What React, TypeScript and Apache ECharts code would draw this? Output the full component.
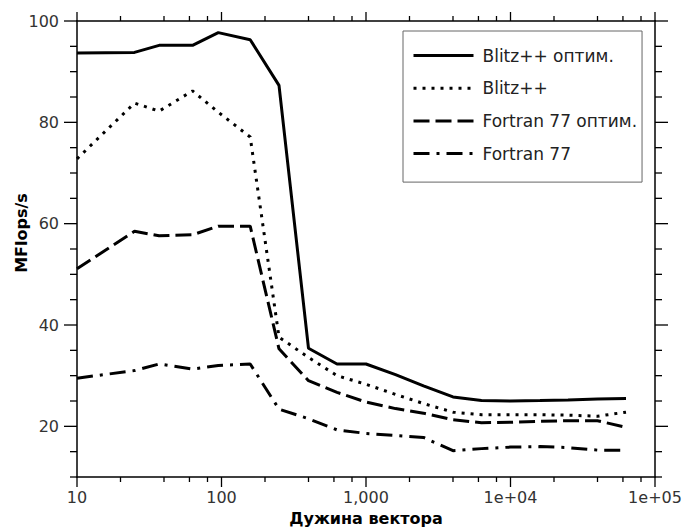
import React, { useEffect, useRef } from "react";
import * as echarts from "echarts";

const vectorLengths = [10, 25, 37, 63, 95, 158, 250, 400, 630, 1000, 1600, 2500, 4000, 6300, 10000, 16000, 25000, 40000, 63000];
const blitzOpt = [93.7, 93.8, 95.2, 95.2, 97.7, 96.3, 87.3, 35.4, 32.3, 32.3, 30.2, 28.0, 25.8, 25.1, 25.0, 25.1, 25.2, 25.4, 25.5];
const blitz = [72.8, 83.8, 82.2, 86.2, 82.0, 77.1, 37.6, 33.6, 30.0, 28.3, 26.3, 24.5, 22.8, 22.3, 22.3, 22.3, 22.2, 22.0, 22.8];
const fortranOpt = [51.1, 58.5, 57.6, 57.8, 59.5, 59.5, 35.3, 29.0, 26.7, 24.8, 23.5, 22.6, 21.3, 20.7, 20.8, 21.0, 21.1, 21.1, 19.8];
const fortran = [29.5, 31.0, 32.3, 31.3, 32.0, 32.3, 23.4, 21.5, 19.3, 18.6, 18.2, 17.8, 15.2, 15.6, 15.9, 16.0, 15.8, 15.3, 15.3];

const seriesNames = ["Blitz++ оптим.", "Blitz++", "Fortran 77 оптим.", "Fortran 77"];

const xTickValues = [10, 100, 1000, 10000, 100000];
const xTickLabels = ["10", "100", "1,000", "1e+04", "1e+05"];
const xMinorTicks = [20, 40, 60, 80, 200, 400, 600, 800, 2000, 4000, 6000, 8000, 20000, 40000, 60000, 80000];
const yTickValues = [20, 40, 60, 80, 100];
const yMinorTicks = [10, 15, 25, 30, 35, 45, 50, 55, 65, 70, 75, 85, 90, 95];

const FONT = "DejaVu Sans";

export default function App() {
  const ref = useRef<HTMLDivElement>(null);
  useEffect(() => {
    if (!ref.current) return;
    const chart = echarts.init(ref.current, undefined, { renderer: "svg" });
    const axisLine = { show: true, lineStyle: { color: "#000", width: 1.5 } };
    const fmtX = (v: number) => {
      const i = xTickValues.findIndex((t) => Math.abs(t - v) / t < 1e-6);
      return i >= 0 ? xTickLabels[i] : "";
    };
    const xBase = { type: "log" as const, logBase: 10, min: 10, max: 100000, splitLine: { show: false }, axisTick: { show: false } };
    const yBase = { type: "value" as const, min: 10, max: 100, splitLine: { show: false }, axisTick: { show: false } };
    const dashTypes: any[] = ["solid", [3, 6], [16, 6], [16, 7, 3, 7]];
    const allData = [blitzOpt, blitz, fortranOpt, fortran];
    const option: any = {
      animation: false,
      grid: { left: 77, right: 29, top: 21, bottom: 50, outerBoundsMode: "none", containLabel: false },
      legend: {
        orient: "vertical",
        left: 403,
        top: 31,
        data: seriesNames,
        itemWidth: 60,
        itemHeight: 14,
        itemGap: 15.7,
        padding: [16, 5, 20, 9],
        borderColor: "#666",
        borderWidth: 1,
        lineStyle: { width: 3 },
        itemStyle: { opacity: 0 },
        textStyle: { fontFamily: FONT, fontSize: 17, color: "#222", padding: [0, 0, 0, 4] },
      },
      xAxis: [
        {
          ...xBase,
          position: "bottom",
          axisLine,
          axisLabel: { formatter: fmtX, color: "#333", fontFamily: FONT, fontSize: 16, margin: 12 },
          name: "Дужина вектора",
          nameLocation: "middle",
          nameGap: 33,
          nameTextStyle: { fontFamily: FONT, fontSize: 16, fontWeight: "bold", color: "#000" },
        },
        {
          ...xBase,
          position: "top",
          axisLine,
          axisLabel: { show: false },
        },
      ],
      yAxis: [
        {
          ...yBase,
          position: "left",
          axisLine,
          axisLabel: { customValues: yTickValues, color: "#333", fontFamily: FONT, fontSize: 16, margin: 18 },
          name: "MFlops/s",
          nameLocation: "middle",
          nameGap: 48,
          nameMoveOverlap: false,
          nameTextStyle: { fontFamily: FONT, fontSize: 16, fontWeight: "bold", color: "#000", padding: [0, 0, 0, 32] },
        },
        {
          ...yBase,
          position: "right",
          axisLine,
          axisLabel: { show: false },
        },
      ],
      series: seriesNames.map((name, i) => ({
        name,
        type: "line",
        xAxisIndex: 0,
        yAxisIndex: 0,
        symbol: "none",
        data: vectorLengths.map((x, j) => [x, allData[i][j]]),
        lineStyle: { color: "#000", width: 3, type: dashTypes[i] },
        itemStyle: { color: "#000" },
      })),
    };
    chart.setOption(option);

    // Axis ticks placed through the axes' own scales
    const px = (v: number) => chart.convertToPixel({ xAxisIndex: 0 }, v) as number;
    const py = (v: number) => chart.convertToPixel({ yAxisIndex: 0 }, v) as number;
    const xl = px(10), xr = px(100000), yt = py(100), yb = py(10);
    const st = { stroke: "#000", lineWidth: 1.3 };
    const els: any[] = [];
    const ln = (x1: number, y1: number, x2: number, y2: number) =>
      els.push({ type: "line", silent: true, shape: { x1, y1, x2, y2 }, style: st });
    xTickValues.forEach((v) => {
      const x = px(v);
      ln(x, yb, x, yb + 10);
      ln(x, yt, x, yt - 9);
    });
    xMinorTicks.forEach((v) => {
      const x = px(v);
      ln(x, yb, x, yb + 5);
      ln(x, yt, x, yt - 5);
    });
    yTickValues.forEach((v) => {
      const y = py(v);
      ln(xl, y, xl - 13, y);
      ln(xr, y, xr + 13, y);
    });
    yMinorTicks.forEach((v) => {
      const y = py(v);
      ln(xl, y, xl - 7, y);
      ln(xr, y, xr + 7, y);
    });
    chart.setOption({ graphic: els });
    return () => chart.dispose();
  }, []);
  return <div ref={ref} style={{ position: "absolute", left: 0, top: 0, width: 684, height: 527 }} />;
}
